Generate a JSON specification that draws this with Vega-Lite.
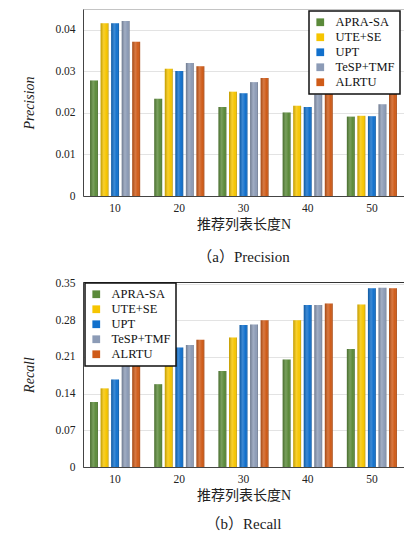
{
  "$schema": "https://vega.github.io/schema/vega-lite/v6.json",
  "autosize": {"type": "pad"},
  "padding": {"left": 22, "top": 8, "right": 2, "bottom": 4},
  "background": "white",
  "datasets": {
    "precision": [
      {"N": "10", "method": "APRA-SA", "value": 0.0278},
      {"N": "10", "method": "UTE+SE", "value": 0.0416},
      {"N": "10", "method": "UPT", "value": 0.0416},
      {"N": "10", "method": "TeSP+TMF", "value": 0.0421},
      {"N": "10", "method": "ALRTU", "value": 0.0371},
      {"N": "20", "method": "APRA-SA", "value": 0.0234},
      {"N": "20", "method": "UTE+SE", "value": 0.0306},
      {"N": "20", "method": "UPT", "value": 0.0301},
      {"N": "20", "method": "TeSP+TMF", "value": 0.0320},
      {"N": "20", "method": "ALRTU", "value": 0.0312},
      {"N": "30", "method": "APRA-SA", "value": 0.0214},
      {"N": "30", "method": "UTE+SE", "value": 0.0251},
      {"N": "30", "method": "UPT", "value": 0.0247},
      {"N": "30", "method": "TeSP+TMF", "value": 0.0274},
      {"N": "30", "method": "ALRTU", "value": 0.0284},
      {"N": "40", "method": "APRA-SA", "value": 0.0201},
      {"N": "40", "method": "UTE+SE", "value": 0.0217},
      {"N": "40", "method": "UPT", "value": 0.0214},
      {"N": "40", "method": "TeSP+TMF", "value": 0.0244},
      {"N": "40", "method": "ALRTU", "value": 0.0266},
      {"N": "50", "method": "APRA-SA", "value": 0.0191},
      {"N": "50", "method": "UTE+SE", "value": 0.0193},
      {"N": "50", "method": "UPT", "value": 0.0192},
      {"N": "50", "method": "TeSP+TMF", "value": 0.0221},
      {"N": "50", "method": "ALRTU", "value": 0.0251}
    ],
    "recall": [
      {"N": "10", "method": "APRA-SA", "value": 0.124},
      {"N": "10", "method": "UTE+SE", "value": 0.150},
      {"N": "10", "method": "UPT", "value": 0.167},
      {"N": "10", "method": "TeSP+TMF", "value": 0.197},
      {"N": "10", "method": "ALRTU", "value": 0.197},
      {"N": "20", "method": "APRA-SA", "value": 0.158},
      {"N": "20", "method": "UTE+SE", "value": 0.209},
      {"N": "20", "method": "UPT", "value": 0.228},
      {"N": "20", "method": "TeSP+TMF", "value": 0.233},
      {"N": "20", "method": "ALRTU", "value": 0.243},
      {"N": "30", "method": "APRA-SA", "value": 0.183},
      {"N": "30", "method": "UTE+SE", "value": 0.247},
      {"N": "30", "method": "UPT", "value": 0.271},
      {"N": "30", "method": "TeSP+TMF", "value": 0.272},
      {"N": "30", "method": "ALRTU", "value": 0.280},
      {"N": "40", "method": "APRA-SA", "value": 0.205},
      {"N": "40", "method": "UTE+SE", "value": 0.280},
      {"N": "40", "method": "UPT", "value": 0.309},
      {"N": "40", "method": "TeSP+TMF", "value": 0.309},
      {"N": "40", "method": "ALRTU", "value": 0.312},
      {"N": "50", "method": "APRA-SA", "value": 0.225},
      {"N": "50", "method": "UTE+SE", "value": 0.310},
      {"N": "50", "method": "UPT", "value": 0.341},
      {"N": "50", "method": "TeSP+TMF", "value": 0.342},
      {"N": "50", "method": "ALRTU", "value": 0.341}
    ]
  },
  "config": {
    "font": "'Liberation Serif', 'Noto Sans CJK SC', serif",
    "axis": {
      "labelFont": "'Liberation Serif', serif",
      "labelFontSize": 11.5,
      "labelColor": "#222",
      "titleFont": "'Liberation Serif', 'Noto Sans CJK SC', serif",
      "titleFontSize": 14,
      "titleFontWeight": "normal",
      "titleColor": "#222",
      "ticks": false,
      "domainColor": "#444",
      "gridColor": "#e3e3e3",
      "gridWidth": 1
    },
    "axisX": {"labelAngle": 0, "labelPadding": 6, "titlePadding": 4, "grid": false},
    "axisY": {"labelPadding": 8, "titlePadding": 18, "titleFontStyle": "italic", "grid": true},
    "legend": {
      "title": null,
      "labelFont": "'Liberation Serif', serif",
      "labelFontSize": 12.5,
      "labelColor": "#111",
      "symbolType": "square",
      "symbolSize": 60,
      "symbolStrokeWidth": 0,
      "strokeColor": "#111",
      "strokeWidth": 1.5,
      "fillColor": "white",
      "padding": 5,
      "rowPadding": 2,
      "labelOffset": 9
    },
    "title": {"font": "'Liberation Serif', 'Noto Sans CJK SC', serif", "fontSize": 15, "fontWeight": "normal", "color": "#222"}
  },
  "resolve": {"legend": {"color": "independent"}},
  "spacing": 12,
  "vconcat": [
    {
      "width": 321,
      "height": 187,
      "data": {"name": "precision"},
      "title": {"text": "（a）Precision", "orient": "bottom", "offset": 18},
      "view": {"stroke": "#c4c4c4"},
      "encoding": {
        "x": {"field": "N", "type": "ordinal", "scale": {"paddingInner": 0.22, "paddingOuter": 0.11}, "axis": {"title": "推荐列表长度N"}},
        "xOffset": {"field": "method", "sort": ["APRA-SA", "UTE+SE", "UPT", "TeSP+TMF", "ALRTU"], "scale": {"paddingInner": 0.25}},
        "y": {"field": "value", "type": "quantitative", "scale": {"domain": [0, 0.045]}, "axis": {"values": [0, 0.01, 0.02, 0.03, 0.04], "format": "~g", "title": "Precision"}}
      },
      "layer": [
        {
          "mark": {"type": "bar"},
          "encoding": {
            "color": {"field": "method", "sort": ["APRA-SA", "UTE+SE", "UPT", "TeSP+TMF", "ALRTU"],
              "scale": {"domain": ["APRA-SA", "UTE+SE", "UPT", "TeSP+TMF", "ALRTU"], "range": ["#5b8a3a", "#f6c500", "#1170cc", "#8c9bb6", "#cf5b18"]},
              "legend": {"orient": "none", "legendX": 226, "legendY": 2}}
          }
        },
        {
          "mark": {"type": "bar", "color": {"gradient": "linear", "x1": 0, "y1": 0, "x2": 1, "y2": 0, "stops": [
            {"offset": 0, "color": "rgba(0,0,0,0.22)"},
            {"offset": 0.4, "color": "rgba(255,255,255,0.18)"},
            {"offset": 0.75, "color": "rgba(255,255,255,0.0)"},
            {"offset": 1, "color": "rgba(0,0,0,0.25)"}
          ]}},
          "encoding": {}
        }
      ]
    },
    {
      "width": 321,
      "height": 185,
      "data": {"name": "recall"},
      "title": {"text": "（b）Recall", "orient": "bottom", "offset": 14},
      "view": {"stroke": "#333"},
      "encoding": {
        "x": {"field": "N", "type": "ordinal", "scale": {"paddingInner": 0.22, "paddingOuter": 0.11}, "axis": {"title": "推荐列表长度N"}},
        "xOffset": {"field": "method", "sort": ["APRA-SA", "UTE+SE", "UPT", "TeSP+TMF", "ALRTU"], "scale": {"paddingInner": 0.25}},
        "y": {"field": "value", "type": "quantitative", "scale": {"domain": [0, 0.353]}, "axis": {"values": [0, 0.07, 0.14, 0.21, 0.28, 0.35], "format": "~g", "title": "Recall"}}
      },
      "layer": [
        {
          "mark": {"type": "bar"},
          "encoding": {
            "color": {"field": "method", "sort": ["APRA-SA", "UTE+SE", "UPT", "TeSP+TMF", "ALRTU"],
              "scale": {"domain": ["APRA-SA", "UTE+SE", "UPT", "TeSP+TMF", "ALRTU"], "range": ["#5b8a3a", "#f6c500", "#1170cc", "#8c9bb6", "#cf5b18"]},
              "legend": {"orient": "none", "legendX": 2, "legendY": 1}}
          }
        },
        {
          "mark": {"type": "bar", "color": {"gradient": "linear", "x1": 0, "y1": 0, "x2": 1, "y2": 0, "stops": [
            {"offset": 0, "color": "rgba(0,0,0,0.22)"},
            {"offset": 0.4, "color": "rgba(255,255,255,0.18)"},
            {"offset": 0.75, "color": "rgba(255,255,255,0.0)"},
            {"offset": 1, "color": "rgba(0,0,0,0.25)"}
          ]}},
          "encoding": {}
        }
      ]
    }
  ]
}
